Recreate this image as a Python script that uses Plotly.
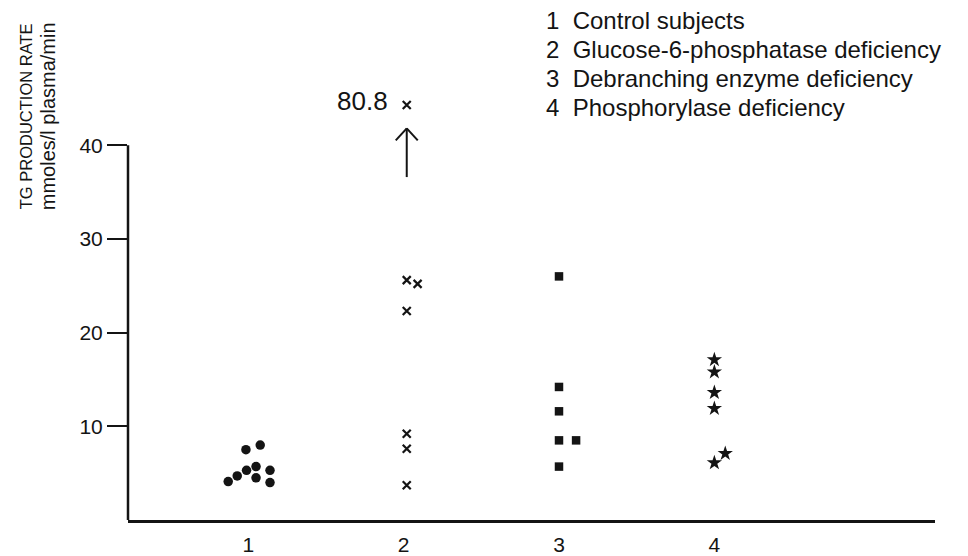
import plotly.graph_objects as go

# ---------------- data ----------------
categories = ["1", "2", "3", "4"]
category_pos = [1, 2, 3, 4]
legend_labels = [
    "Control subjects",
    "Glucose-6-phosphatase deficiency",
    "Debranching enzyme deficiency",
    "Phosphorylase deficiency",
]

g1_x = [0.985, 1.077, 0.871, 0.929, 0.989, 1.05, 1.05, 1.14, 1.14]
g1_y = [7.5, 8.0, 4.1, 4.7, 5.3, 5.7, 4.5, 5.3, 4.0]

g2_x = [2.02, 2.02, 2.09, 2.02, 2.02, 2.02, 2.02]
g2_y = [80.8, 25.6, 25.2, 22.3, 9.2, 7.6, 3.7]
off_scale_value = 80.8
off_scale_plot_y = 44.3          # where the off-scale value is drawn

g3_x = [3.0, 3.0, 3.0, 3.0, 3.11, 3.0]
g3_y = [26.0, 14.2, 11.6, 8.5, 8.5, 5.7]

g4_x = [4.0, 4.0, 4.0, 4.0, 4.07, 4.0]
g4_y = [17.1, 15.8, 13.6, 11.9, 7.1, 6.1]

y_ticks = [10, 20, 30, 40]
y_axis_top = 40
y_title = ["TG PRODUCTION RATE", "mmoles/l plasma/min"]

# ---------------- layout geometry ----------------
W, H = 968, 556
XR = [0.226, 5.42]
YR = [0, 46]
ML, MR, MB = 128, 33, 36
PX_PER_UNIT = 9.375
PH = YR[1] * PX_PER_UNIT
MT = H - MB - PH
PW = W - ML - MR

def px_x(p):  # pixel -> paper
    return (p - ML) / PW

def px_y(p):
    return (H - MB - p) / PH

INK = "#141414"
FONT = "Liberation Sans, Arial, sans-serif"

fig = go.Figure()

fig.add_trace(go.Scatter(x=g1_x, y=g1_y, mode="markers",
                         marker=dict(symbol="circle", size=9.5, color=INK)))
g2_plot = [v if v <= y_axis_top else off_scale_plot_y for v in g2_y]
fig.add_trace(go.Scatter(x=g2_x, y=g2_plot, mode="markers",
                         marker=dict(symbol="x-thin", size=8, color=INK,
                                     line=dict(width=2.2, color=INK))))
fig.add_trace(go.Scatter(x=g3_x, y=g3_y, mode="markers",
                         marker=dict(symbol="square", size=8.5, color=INK)))
fig.add_trace(go.Scatter(x=g4_x, y=g4_y, mode="markers",
                         marker=dict(symbol="star", size=11.5, color=INK)))

# y axis line only up to 40
fig.add_shape(type="line", xref="paper", yref="y", x0=0, x1=0, y0=YR[0], y1=y_axis_top,
              line=dict(color=INK, width=2.5))

# arrow indicating off-scale value
ax = g2_x[0]
y_tail, y_tip = 36.6, 41.8
hw = 11 / PW * (XR[1] - XR[0])
hh = 12 / PX_PER_UNIT
for (x0, y0, x1, y1) in [(ax, y_tail, ax, y_tip),
                         (ax - hw, y_tip - hh, ax, y_tip),
                         (ax + hw, y_tip - hh, ax, y_tip)]:
    fig.add_shape(type="line", xref="x", yref="y", x0=x0, y0=y0, x1=x1, y1=y1,
                  line=dict(color=INK, width=2))

fig.add_annotation(x=1.913, y=44.7, xref="x", yref="y", text=f"{off_scale_value}",
                   showarrow=False, xanchor="right", yanchor="middle",
                   font=dict(family=FONT, size=26, color=INK))

# legend text (top right)
leg_y = [20, 49, 78, 107]
for i, (c, lab) in enumerate(zip(categories, legend_labels)):
    fig.add_annotation(x=px_x(544), y=px_y(leg_y[i]), xref="paper", yref="paper",
                       text=f"{c}&nbsp;&nbsp;{lab}", showarrow=False,
                       xanchor="left", yanchor="middle",
                       font=dict(family=FONT, size=24, color=INK))

# y-axis title
fig.add_annotation(x=px_x(38), y=px_y(116), xref="paper", yref="paper",
                   text=(f"<span style='font-size:16.5px'>{y_title[0]}</span><br>"
                         f"<span style='font-size:20px'>{y_title[1]}</span>"),
                   textangle=-90, showarrow=False,
                   xanchor="center", yanchor="middle", align="center",
                   font=dict(family=FONT, size=18, color=INK))

fig.update_layout(
    width=W, height=H,
    margin=dict(l=ML, r=MR, t=MT, b=MB, pad=0, autoexpand=False),
    paper_bgcolor="white", plot_bgcolor="white",
    showlegend=False,
    font=dict(family=FONT, color=INK),
    xaxis=dict(range=XR, tickvals=category_pos, ticktext=categories,
               showgrid=False, zeroline=False, showline=True, automargin=False,
               linecolor=INK, linewidth=2.5, ticks="", ticklabelstandoff=4,
               tickfont=dict(size=21, family=FONT, color=INK)),
    yaxis=dict(range=YR, tickvals=y_ticks, showgrid=False, zeroline=False,
               showline=False, automargin=False,
               ticks="outside", ticklen=20, tickwidth=2, tickcolor=INK,
               tickfont=dict(size=21, family=FONT, color=INK)),
)

fig.write_html("out.html")
